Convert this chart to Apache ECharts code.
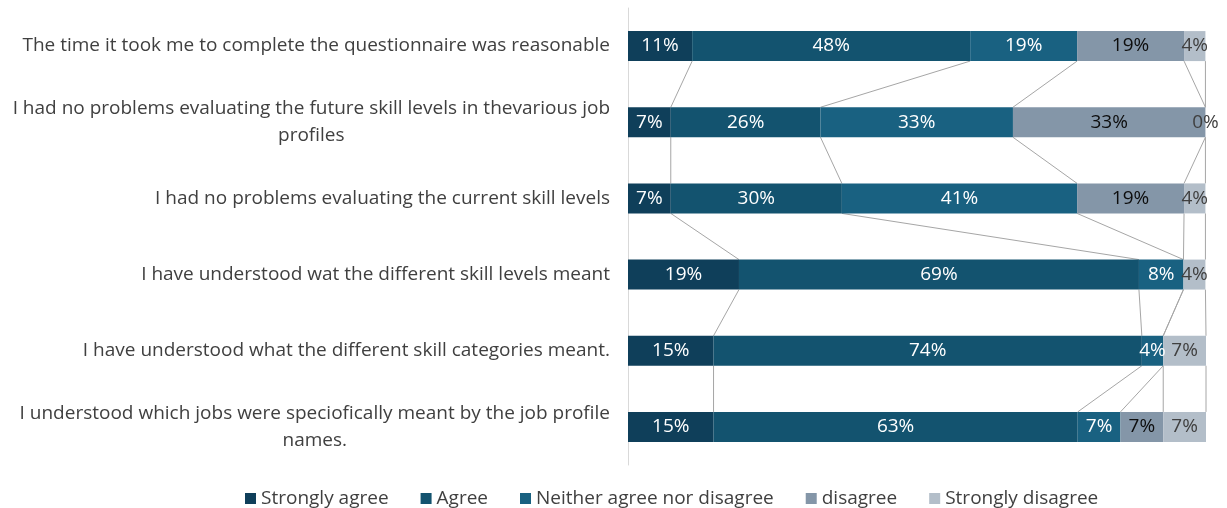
<!DOCTYPE html>
<html>
<head>
<meta charset="utf-8">
<script src="https://cdn.jsdelivr.net/npm/echarts@6/dist/echarts.min.js"></script>
<style>
  html, body { margin: 0; padding: 0; background: #fff; }
  #chart { width: 1227px; height: 508px; }
</style>
</head>
<body>
<div id="chart"></div>
<script>
// Survey statements, top to bottom
const statements = [
  'The time it took me to complete the questionnaire was reasonable',
  'I had no problems evaluating the future skill levels in thevarious job profiles',
  'I had no problems evaluating the current skill levels',
  'I have understood wat the different skill levels meant',
  'I have understood what the different skill categories meant.',
  'I understood which jobs were speciofically meant by the job profile names.'
];

const answerNames = ['Strongly agree', 'Agree', 'Neither agree nor disagree', 'disagree', 'Strongly disagree'];

// Share of respondents per answer (%), one array per answer, in statement order
const stronglyAgree = [11.1, 7.4, 7.4, 19.2, 14.8, 14.8];
const agree         = [48.1, 25.9, 29.6, 69.2, 74.1, 63.0];
const neither       = [18.5, 33.3, 40.7, 7.7, 3.7, 7.4];
const disagree      = [18.5, 33.3, 18.5, null, null, 7.4];
const stronglyDis   = [3.7, 0, 3.7, 3.8, 7.4, 7.4];

const answerValues = [stronglyAgree, agree, neither, disagree, stronglyDis];
const answerColors = ['#0f3f5a', '#13536f', '#196181', '#8496a8', '#b3bec9'];
const labelColors  = ['#ffffff', '#ffffff', '#ffffff', '#0d0d0d', '#404040'];

const FONT = 'Open Sans';
const FONT_SIZE = 19;
const BAR_W = 30;
const LABEL_WIDTH = 607;   // widest a statement line may get before wrapping
const LABEL_RIGHT = 610;   // x where statement labels end

// Word-wrap the statements; wrapped lines are centred within their block,
// single lines stay flush right against the axis
const measureCtx = document.createElement('canvas').getContext('2d');
measureCtx.font = FONT_SIZE + 'px "' + FONT + '"';
function wrapText(text) {
  const words = text.split(' ');
  const lines = [];
  let cur = '';
  words.forEach(w => {
    const next = cur ? cur + ' ' + w : w;
    if (cur && measureCtx.measureText(next).width > LABEL_WIDTH) {
      lines.push(cur);
      cur = w;
    } else {
      cur = next;
    }
  });
  lines.push(cur);
  return lines;
}
const categoryItems = statements.map(text => {
  const lines = wrapText(text);
  if (lines.length === 1) return { value: text };
  const widest = Math.max(...lines.map(l => measureCtx.measureText(l).width));
  return {
    value: text,
    textStyle: { align: 'center', padding: [3, widest, 0, 0] }
  };
});
const wrappedLabel = Object.fromEntries(statements.map(t => [t, wrapText(t).join('\n')]));

// Running totals give the right edge of each segment in every row
const ends = answerValues.map((_, s) =>
  statements.map((_, r) => {
    let t = 0;
    for (let k = 0; k <= s; k++) t += answerValues[k][r] || 0;
    return t;
  })
);

// Connector lines between segment ends of neighbouring rows
const connectorData = [];
for (let s = 0; s < answerValues.length; s++) {
  for (let r = 0; r < statements.length - 1; r++) {
    connectorData.push([ends[s][r], r, ends[s][r + 1], r + 1]);
  }
}

const barSeries = answerNames.map((name, s) => ({
  name: name,
  type: 'bar',
  stack: 'total',
  barWidth: BAR_W,
  z: 3,
  data: answerValues[s],
  itemStyle: { color: answerColors[s] },
  label: {
    show: true,
    position: 'inside',
    color: labelColors[s],
    fontFamily: FONT,
    fontSize: FONT_SIZE,
    padding: [2, 0, 0, 0],
    formatter: p => (p.value == null ? '' : Math.round(p.value) + '%')
  },
  emphasis: { disabled: true }
}));

const connectorSeries = {
  type: 'custom',
  name: 'connectors',
  z: 2,
  silent: true,
  data: connectorData,
  encode: { x: [0, 2], y: [1, 3] },
  renderItem: (params, api) => {
    const a = api.coord([api.value(0), api.value(1)]);
    const b = api.coord([api.value(2), api.value(3)]);
    return {
      type: 'line',
      shape: { x1: a[0], y1: a[1] + BAR_W / 2, x2: b[0], y2: b[1] - BAR_W / 2 },
      style: { stroke: '#a6a6a6', lineWidth: 1 }
    };
  }
};

const chart = echarts.init(document.getElementById('chart'), null, { renderer: 'canvas' });
chart.setOption({
  animation: false,
  backgroundColor: '#ffffff',
  grid: { left: 628, right: 21, top: 8, bottom: 43 },
  xAxis: {
    type: 'value',
    min: 0,
    max: 100,
    show: false
  },
  yAxis: {
    type: 'category',
    inverse: true,
    data: categoryItems,
    axisLine: { show: true, lineStyle: { color: '#d9d9d9', width: 1 } },
    axisTick: { show: false },
    axisLabel: {
      color: '#404040',
      fontFamily: FONT,
      fontSize: FONT_SIZE,
      margin: 628 - LABEL_RIGHT,
      align: 'right',
      lineHeight: 27,
      padding: [4, 0, 0, 0],
      formatter: v => wrappedLabel[v]
    }
  },
  legend: {
    data: answerNames,
    top: 484,
    left: 240,
    itemWidth: 11,
    itemHeight: 11,
    itemGap: 32,
    icon: 'rect',
    textStyle: { color: '#404040', fontFamily: FONT, fontSize: FONT_SIZE }
  },
  series: [connectorSeries, ...barSeries]
});
</script>
</body>
</html>
